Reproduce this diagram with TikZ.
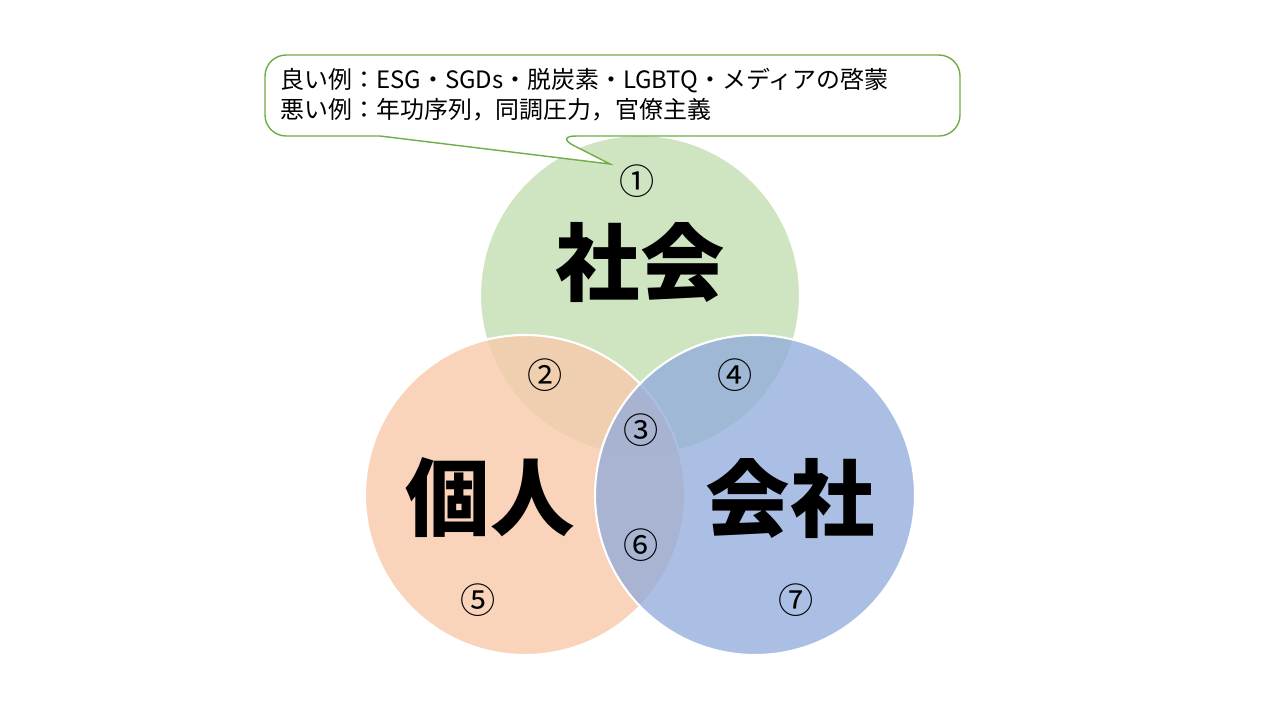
\documentclass[tikz,border=0pt]{standalone}
\usepackage{fontspec}
\newfontfamily\cjk{Noto Sans CJK JP}
\usetikzlibrary{positioning, calc}
\definecolor{socgreen}{RGB}{197,224,180}
\definecolor{perorange}{RGB}{248,203,173}
\definecolor{combblue}{RGB}{143,170,220}
\definecolor{calloutgreen}{RGB}{112,173,71}

\begin{document}
\begin{tikzpicture}[x=0.01cm, y=-0.01cm,
    circ/.style={draw=white, line width=0.6pt, fill opacity=0.82},
    bigtxt/.style={font=\cjk\fontsize{24}{28}\selectfont\bfseries},
    numtxt/.style={font=\cjk\fontsize{10}{12}\selectfont},
]
\useasboundingbox (0,0) rectangle (1280,720);
\fill[white] (0,0) rectangle (1280,720);

% circles
\fill[circ, fill=socgreen] (640,295) circle (160);
\fill[circ, fill=perorange] (525,495) circle (160);
\fill[circ, fill=combblue, fill opacity=0.75] (755,495) circle (160);

% callout
\draw[calloutgreen, fill=white, line width=0.4pt, rounded corners=6]
  (265,55) -- (960,55) -- (960,136) -- (555,136) [sharp corners] -- (610,164) -- (380,136) [rounded corners=6] -- (265,136) -- cycle;
\node[anchor=north west, align=left, inner sep=0pt, font=\cjk\fontsize{6.8}{8.6}\selectfont] (callout) at (280,67)
  {良い例：ESG・SGDs・脱炭素・LGBTQ・メディアの啓蒙\\悪い例：年功序列，同調圧力，官僚主義};

% labels
\node[bigtxt] (society) at (640,262) {社会};
\node[bigtxt] (person) at (490,498) {個人};
\node[bigtxt] (company) at (790,498) {会社};

% numbers
\node[numtxt] (n1) at (637,181) {①};
\node[numtxt] (n2) at (545,375) {②};
\node[numtxt] (n3) at (641,430) {③};
\node[numtxt] (n4) at (735,375) {④};
\node[numtxt] (n5) at (478,600) {⑤};
\node[numtxt] (n6) at (641,545) {⑥};
\node[numtxt] (n7) at (796,600) {⑦};

\end{tikzpicture}
\end{document}
